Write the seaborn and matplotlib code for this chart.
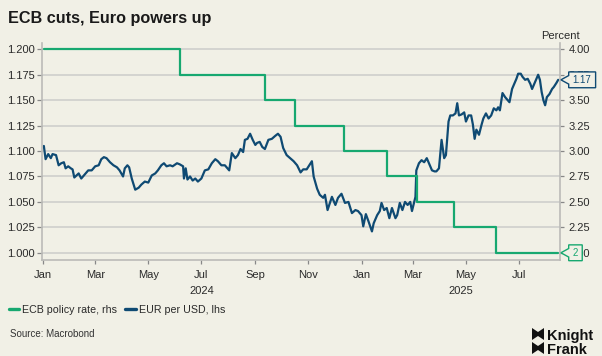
import matplotlib
matplotlib.use("Agg")
import matplotlib.pyplot as plt
import matplotlib.dates as mdates
from matplotlib.lines import Line2D
from matplotlib.patches import Polygon
from matplotlib.path import Path
from matplotlib.ticker import MultipleLocator, FormatStrFormatter
import pandas as pd
import seaborn as sns

# EUR per USD (lhs)
eur_dates = [
    "2024-01-02", "2024-01-04", "2024-01-07", "2024-01-10", "2024-01-12", "2024-01-16", "2024-01-19",
    "2024-01-22", "2024-01-25", "2024-01-27", "2024-01-30", "2024-02-02", "2024-02-04", "2024-02-06",
    "2024-02-11", "2024-02-14", "2024-02-18", "2024-02-22", "2024-02-26", "2024-03-01", "2024-03-05",
    "2024-03-08", "2024-03-11", "2024-03-14", "2024-03-18", "2024-03-22", "2024-03-26", "2024-03-29",
    "2024-04-02", "2024-04-04", "2024-04-07", "2024-04-09", "2024-04-12", "2024-04-16", "2024-04-20",
    "2024-04-23", "2024-04-27", "2024-05-01", "2024-05-05", "2024-05-09", "2024-05-12", "2024-05-16",
    "2024-05-19", "2024-05-22", "2024-05-26", "2024-05-29", "2024-06-03", "2024-06-06", "2024-06-10",
    "2024-06-11", "2024-06-13", "2024-06-15", "2024-06-18", "2024-06-21", "2024-06-24", "2024-06-27",
    "2024-07-01", "2024-07-05", "2024-07-09", "2024-07-13", "2024-07-17", "2024-07-20", "2024-07-24",
    "2024-07-28", "2024-08-02", "2024-08-05", "2024-08-09", "2024-08-12", "2024-08-15", "2024-08-18",
    "2024-08-20", "2024-08-23", "2024-08-26", "2024-08-29", "2024-09-01", "2024-09-03", "2024-09-06",
    "2024-09-09", "2024-09-12", "2024-09-16", "2024-09-20", "2024-09-24", "2024-09-27", "2024-09-30",
    "2024-10-03", "2024-10-07", "2024-10-11", "2024-10-15", "2024-10-19", "2024-10-23", "2024-10-26",
    "2024-10-30", "2024-11-02", "2024-11-05", "2024-11-07", "2024-11-11", "2024-11-14", "2024-11-18",
    "2024-11-20", "2024-11-23", "2024-11-28", "2024-12-02", "2024-12-05", "2024-12-09", "2024-12-13",
    "2024-12-17", "2024-12-21", "2024-12-25", "2024-12-28", "2025-01-01", "2025-01-03", "2025-01-06",
    "2025-01-09", "2025-01-13", "2025-01-15", "2025-01-19", "2025-01-22", "2025-01-24", "2025-01-27",
    "2025-01-30", "2025-02-02", "2025-02-05", "2025-02-09", "2025-02-11", "2025-02-14", "2025-02-17",
    "2025-02-20", "2025-02-23", "2025-02-26", "2025-02-28", "2025-03-04", "2025-03-05", "2025-03-08",
    "2025-03-11", "2025-03-14", "2025-03-17", "2025-03-20", "2025-03-23", "2025-03-26", "2025-03-28",
    "2025-03-31", "2025-04-03", "2025-04-06", "2025-04-08", "2025-04-11", "2025-04-13", "2025-04-16",
    "2025-04-19", "2025-04-21", "2025-04-23", "2025-04-26", "2025-04-29", "2025-05-01", "2025-05-04",
    "2025-05-07", "2025-05-09", "2025-05-11", "2025-05-13", "2025-05-16", "2025-05-19", "2025-05-21",
    "2025-05-24", "2025-05-27", "2025-05-30", "2025-06-02", "2025-06-05", "2025-06-07", "2025-06-09",
    "2025-06-12", "2025-06-15", "2025-06-18", "2025-06-20", "2025-06-23", "2025-06-25", "2025-06-28",
    "2025-06-30", "2025-07-03", "2025-07-05", "2025-07-08", "2025-07-11", "2025-07-14", "2025-07-16",
    "2025-07-18", "2025-07-21", "2025-07-23", "2025-07-25", "2025-07-27", "2025-07-29", "2025-07-31",
    "2025-08-02", "2025-08-05", "2025-08-08", "2025-08-10", "2025-08-13", "2025-08-15",
]
eur_values = [
    1.105, 1.092, 1.097, 1.093, 1.097, 1.096, 1.086,
    1.088, 1.089, 1.083, 1.085, 1.083, 1.082, 1.074,
    1.078, 1.073, 1.077, 1.081, 1.081, 1.085, 1.086,
    1.092, 1.094, 1.093, 1.089, 1.086, 1.084, 1.081,
    1.075, 1.083, 1.086, 1.084, 1.073, 1.062, 1.064,
    1.067, 1.070, 1.069, 1.076, 1.078, 1.081, 1.086,
    1.088, 1.085, 1.086, 1.085, 1.088, 1.087, 1.085,
    1.073, 1.083, 1.072, 1.075, 1.071, 1.073, 1.070,
    1.073, 1.081, 1.082, 1.088, 1.092, 1.090, 1.086,
    1.086, 1.081, 1.098, 1.093, 1.096, 1.102, 1.099,
    1.111, 1.112, 1.117, 1.111, 1.106, 1.108, 1.109,
    1.104, 1.102, 1.111, 1.112, 1.115, 1.117, 1.114,
    1.103, 1.096, 1.093, 1.090, 1.086, 1.079, 1.082,
    1.082, 1.086, 1.090, 1.075, 1.063, 1.057, 1.054,
    1.057, 1.042, 1.055, 1.047, 1.054, 1.058, 1.049,
    1.050, 1.039, 1.042, 1.041, 1.037, 1.026, 1.038,
    1.031, 1.021, 1.029, 1.037, 1.041, 1.049, 1.042,
    1.044, 1.034, 1.044, 1.034, 1.037, 1.049, 1.042,
    1.050, 1.047, 1.050, 1.041, 1.055, 1.081, 1.088,
    1.091, 1.089, 1.093, 1.087, 1.081, 1.080, 1.080,
    1.083, 1.111, 1.093, 1.096, 1.129, 1.135, 1.135,
    1.137, 1.147, 1.135, 1.136, 1.138, 1.129, 1.135,
    1.135, 1.126, 1.112, 1.121, 1.116, 1.126, 1.132,
    1.137, 1.132, 1.135, 1.142, 1.140, 1.143, 1.140,
    1.157, 1.153, 1.150, 1.148, 1.161, 1.165, 1.171,
    1.176, 1.176, 1.173, 1.170, 1.171, 1.166, 1.161,
    1.165, 1.171, 1.175, 1.170, 1.158, 1.150, 1.145,
    1.153, 1.156, 1.161, 1.163, 1.167, 1.170,
]

# ECB policy rate (rhs), step changes
rate_dates = ["2024-01-02", "2024-06-06", "2024-09-12", "2024-10-17", "2024-12-12",
              "2025-01-30", "2025-03-06", "2025-04-17", "2025-06-05", "2025-08-15"]
rate_values = [4.00, 3.75, 3.50, 3.25, 3.00, 2.75, 2.50, 2.25, 2.00, 2.00]

left_ticks_step = 0.025
right_ticks_step = 0.25
year_labels = [2024, 2025]

fx = pd.DataFrame({"date": pd.to_datetime(eur_dates), "eur": eur_values})
ecb = pd.DataFrame({"date": pd.to_datetime(rate_dates), "rate": rate_values})

BG = "#F1F0E6"
GREEN = "#17A870"
BLUE = "#0F4A73"
GRID = "#CFCFCC"
SPINE = "#BBBBB8"
TXT = "#2A2A2A"

sns.set_theme(style="white")
plt.rcParams["font.family"] = ["Liberation Sans", "DejaVu Sans"]

W, H = 602, 356
fig = plt.figure(figsize=(W / 100, H / 100), dpi=100, facecolor=BG)
ax = fig.add_axes([42 / W, 1 - 259.8 / H, (560 - 42) / W, (259.8 - 43.3) / H])
ax.set_facecolor(BG)
ax2 = ax.twinx()

sns.lineplot(data=fx, x="date", y="eur", ax=ax, color=BLUE, linewidth=1.6)
sns.lineplot(data=ecb, x="date", y="rate", ax=ax2, color=GREEN, linewidth=1.6,
             drawstyle="steps-post")

# axes ranges: lhs 1.000-1.200 lines up with rhs 2.00-4.00
ylo, yhi = 0.9931, 1.2059
ax.set_ylim(ylo, yhi)
ax2.set_ylim(2 + (ylo - 1) * 10, 2 + (yhi - 1) * 10)
x0 = pd.Timestamp("2023-12-30 21:00")
x1 = pd.Timestamp("2025-08-17 02:00")
ax.set_xlim(x0, x1)

ax.yaxis.set_major_locator(MultipleLocator(left_ticks_step))
ax.yaxis.set_major_formatter(FormatStrFormatter("%.3f"))
ax2.yaxis.set_major_locator(MultipleLocator(right_ticks_step))
ax2.yaxis.set_major_formatter(FormatStrFormatter("%.2f"))
ax.xaxis.set_major_locator(mdates.MonthLocator(bymonth=[1, 3, 5, 7, 9, 11]))
ax.xaxis.set_major_formatter(mdates.DateFormatter("%b"))

ax.grid(axis="y", color=GRID, linewidth=1.2)
ax.grid(axis="x", visible=False)
ax.set_axisbelow(True)
for a in (ax, ax2):
    a.set_xlabel("")
    a.set_ylabel("")
for s in ("top", "right"):
    ax.spines[s].set_visible(False)
for s in ("top", "left", "bottom"):
    ax2.spines[s].set_visible(False)
for sp in (ax.spines["left"], ax.spines["bottom"], ax2.spines["right"]):
    sp.set_color(SPINE)
    sp.set_linewidth(1.2)

ax.tick_params(axis="y", left=True, length=3.6, width=0.9, color="#888888", pad=1.5,
               labelsize=8, labelcolor=TXT)
ax.tick_params(axis="x", bottom=True, length=3, width=0.9, color="#888888", pad=4,
               labelsize=8, labelcolor=TXT)
ax2.tick_params(axis="y", right=True, length=3, width=0.9, color="#888888", pad=3,
                labelsize=8, labelcolor=TXT)

# year labels centred on the visible part of each year
for yr in year_labels:
    start = max(pd.Timestamp(f"{yr}-01-01"), x0)
    end = min(pd.Timestamp(f"{yr + 1}-01-01"), x1)
    mid = start + (end - start) / 2
    ax.annotate(str(yr), xy=(mdates.date2num(mid), 0), xycoords=("data", "axes fraction"),
                xytext=(0, -22.4), textcoords="offset points", ha="center", va="center",
                fontsize=8, color=TXT, annotation_clip=False)


def tag_box(x0, y0, width, height, mutation_size):
    # rectangle with a small arrow notch pointing at the axis
    hpad = 0.42 * mutation_size
    vpad = 0.3 * mutation_size
    notch = 0.8 * mutation_size
    left, right = x0 - hpad, x0 + width + hpad
    bot, top = y0 - vpad, y0 + height + vpad
    mid = (bot + top) / 2
    half = (top - bot) * 0.27
    verts = [(left, bot), (right, bot), (right, top), (left, top),
             (left, mid + half), (left - notch, mid), (left, mid - half), (left, bot)]
    return Path(verts, closed=True)


last_fx = eur_values[-1]
last_rate = rate_values[-1]
ax2.annotate(f"{last_fx:.2f}", xy=(1, last_fx), xycoords=(ax2.transAxes, ax.transData),
             xytext=(9.2, 0), textcoords="offset points", ha="left", va="center",
             fontsize=7, color=BLUE, annotation_clip=False, zorder=5,
             bbox=dict(boxstyle=tag_box, fc=BG, ec=BLUE, lw=1.0))
ax2.annotate(f"{last_rate:g}", xy=(1, last_rate), xycoords=("axes fraction", "data"),
             xytext=(9.2, 0), textcoords="offset points", ha="left", va="center",
             fontsize=7, color=GREEN, annotation_clip=False, zorder=5,
             bbox=dict(boxstyle=tag_box, fc=BG, ec=GREEN, lw=1.0))

fig.text(560 / W, 1 - 36 / H, "Percent", ha="center", va="center", fontsize=8, color=TXT)

fig.text(7.5 / W, 1 - 22.7 / H, "ECB cuts, Euro powers up", ha="left", va="baseline",
         fontsize=11.7, fontweight="bold", color="#1A1A1A")

handles = [Line2D([], [], color=GREEN, lw=2.4), Line2D([], [], color=BLUE, lw=2.4)]
fig.legend(handles, ["ECB policy rate, rhs", "EUR per USD, lhs"], loc="center left",
           bbox_to_anchor=(8.5 / W, 1 - 310 / H), ncol=2, frameon=False, fontsize=7.7,
           handlelength=1.0, handletextpad=0.25, columnspacing=0.8, borderpad=0,
           borderaxespad=0, labelcolor=TXT)

fig.text(9.6 / W, 1 - 333.8 / H, "Source: Macrobond", ha="left", va="center",
         fontsize=7, color="#333333")

# Knight Frank logo
def px(x, y):
    return (x / W, 1 - y / H)

for top, bot in ((328, 340), (342, 354)):
    shape = [px(532, top), px(538, top + 4), px(544, top), px(544, bot),
             px(538, bot - 4), px(532, bot)]
    fig.add_artist(Polygon(shape, closed=True, transform=fig.transFigure,
                           fc="#111111", ec="none"))
fig.text(547 / W, 1 - 340 / H, "Knight", ha="left", va="baseline", fontsize=10.5,
         fontweight="bold", color="#111111")
fig.text(547 / W, 1 - 354 / H, "Frank", ha="left", va="baseline", fontsize=10.5,
         fontweight="bold", color="#111111")

fig.savefig("out.png", dpi=100, facecolor=BG)
